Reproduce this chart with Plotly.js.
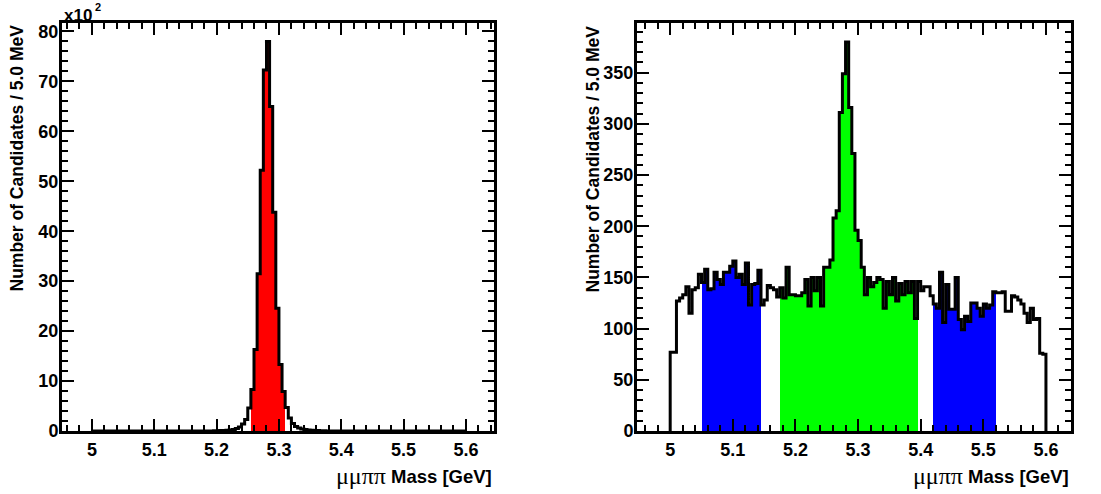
<!DOCTYPE html>
<html>
<head>
<meta charset="utf-8">
<script src="https://cdn.plot.ly/plotly-3.0.1.min.js"></script>
<style>html,body{margin:0;padding:0;background:#fff;}#chart{width:1101px;height:494px;}</style>
</head>
<body>
<div id="chart"></div>
<script>
// Histogram binning: 120 bins of 5 MeV from 5.0 to 5.6 GeV
const massMin = 5.0;
const binWidth = 0.005;
const nBins = 120;

// Left panel: signal MC, candidates per bin in units of 10^2
const leftCounts = [
  0,0,0,0,0,0,0,0,0,0,
  0,0,0,0,0,0,0,0,0,0,
  0,0,0,0,0,0,0,0,0,0,
  0,0,0,0,0,0,0,0,0.02,0.03,
  0.05,0.08,0.1,0.15,0.2,0.3,0.5,0.8,1.4,2.3,
  4.6,8.3,16.3,31.5,52.2,72.3,78.0,65.0,43.8,24.6,
  13.3,7.9,4.7,2.6,1.5,0.9,0.6,0.4,0.3,0.2,
  0.15,0.1,0.08,0.05,0.03,0.02,0,0,0,0,
  0,0,0,0,0,0,0,0,0,0,
  0,0,0,0,0,0,0,0,0,0,
  0,0,0,0,0,0,0,0,0,0,
  0,0,0,0,0,0,0,0,0,0
];

// Right panel: data, candidates per bin
const rightCounts = [
  77,77,127,130,133,141,115,138,140,153,
  145,158,138,139,155,148,143,155,155,161,
  166,150,153,143,164,123,143,144,157,123,
  128,142,140,138,131,140,130,160,133,133,
  132,132,135,148,122,150,137,150,122,160,
  160,167,208,215,311,349,380,316,271,196,
  186,160,133,150,141,145,150,148,120,146,
  133,150,127,144,133,146,135,146,110,146,
  137,141,141,132,124,120,155,106,143,119,
  119,150,109,99,112,107,125,125,120,112,
  124,120,123,136,135,135,136,117,117,132,
  131,128,124,115,106,120,109,110,76,75
];

// Selection windows (GeV)
const leftSignalWindow = [5.255, 5.310];
const rightSignalWindow = [5.175, 5.395];
const rightSidebands = [[5.05, 5.145], [5.42, 5.52]];

const xTickVals = [5.0, 5.1, 5.2, 5.3, 5.4, 5.5, 5.6];
const xTickText = ['5', '5.1', '5.2', '5.3', '5.4', '5.5', '5.6'];
const leftYTicks = [0, 10, 20, 30, 40, 50, 60, 70, 80];
const rightYTicks = [0, 50, 100, 150, 200, 250, 300, 350];

const xTitleGreek = 'μμππ';
const xTitleText = 'Mass [GeV]';
const yTitle = 'Number of Candidates / 5.0 MeV';

const centers = [];
const edges = [];
for (let i = 0; i < nBins; i++) {
  centers.push(+(massMin + binWidth * (i + 0.5)).toFixed(4));
  edges.push(+(massMin + binWidth * i).toFixed(4));
}
const massMax = +(massMin + binWidth * nBins).toFixed(4);

function inWin(x, w) { return x > w[0] && x < w[1]; }

const leftColors = centers.map(c => inWin(c, leftSignalWindow) ? '#ff0000' : 'rgba(0,0,0,0)');
const rightColors = centers.map(c => {
  if (inWin(c, rightSignalWindow)) return '#00ff00';
  if (rightSidebands.some(w => inWin(c, w))) return '#0000ff';
  return 'rgba(0,0,0,0)';
});

function outline(counts) {
  const xs = [massMin].concat(edges).concat([massMax, massMax]);
  const ys = [0].concat(counts).concat([counts[counts.length - 1], 0]);
  return {xs, ys};
}
const lo = outline(leftCounts);
const ro = outline(rightCounts);

const traces = [
  {type: 'bar', x: centers, y: leftCounts, width: binWidth, marker: {color: leftColors, line: {width: 0}},
   xaxis: 'x', yaxis: 'y', hoverinfo: 'skip', showlegend: false},
  {type: 'scatter', mode: 'lines', x: lo.xs, y: lo.ys, line: {shape: 'hv', color: '#000', width: 3},
   xaxis: 'x', yaxis: 'y', hoverinfo: 'skip', showlegend: false},
  {type: 'bar', x: centers, y: rightCounts, width: binWidth, marker: {color: rightColors, line: {width: 0}},
   xaxis: 'x2', yaxis: 'y2', hoverinfo: 'skip', showlegend: false},
  {type: 'scatter', mode: 'lines', x: ro.xs, y: ro.ys, line: {shape: 'hv', color: '#000', width: 3},
   xaxis: 'x2', yaxis: 'y2', hoverinfo: 'skip', showlegend: false}
];

const FONT = 'Liberation Sans, Arial, sans-serif';
const tickFont = {family: FONT, size: 18, color: '#000', weight: 700};

function xAxis(domain, anchor, range) {
  return {
    domain: domain, anchor: anchor, range: range,
    tickvals: xTickVals, ticktext: xTickText,
    ticks: 'inside', ticklen: 12, tickwidth: 2, tickcolor: '#000',
    minor: {dtick: 0.02, tick0: 5.0, ticks: 'inside', ticklen: 6, tickwidth: 2, tickcolor: '#000'},
    showline: true, linewidth: 3, linecolor: '#000', mirror: 'allticks',
    showgrid: false, zeroline: false, tickfont: tickFont, fixedrange: true
  };
}
function yAxis(anchor, range, vals, minorD) {
  return {
    anchor: anchor, domain: [0, 1], range: range,
    tickvals: vals,
    ticks: 'inside', ticklen: 12, tickwidth: 2, tickcolor: '#000',
    minor: {dtick: minorD, tick0: 0, ticks: 'inside', ticklen: 6, tickwidth: 2, tickcolor: '#000'},
    showline: true, linewidth: 3, linecolor: '#000', mirror: 'allticks',
    showgrid: false, zeroline: false, tickfont: tickFont, fixedrange: true,
    ticklabelstandoff: -3
  };
}

const W = 1101, H = 494, mt = 23, mb = 63;
const ph = H - mt - mb;
const px = v => v / W;
const py = v => (H - mb - v) / ph;

const yTitleFont = {family: FONT, size: 17.5, color: '#000', weight: 700};
const xTitleFont = {family: FONT, size: 18.5, color: '#000', weight: 700};
const greekFont = {family: 'Liberation Serif, Times New Roman, serif', size: 24, color: '#000', weight: 400};

function xTitleAnns(rightPx) {
  return [
    {xref: 'paper', yref: 'paper', x: px(rightPx), y: py(476), xanchor: 'right', yanchor: 'middle',
     text: xTitleText, showarrow: false, font: xTitleFont},
    {xref: 'paper', yref: 'paper', x: px(rightPx - 106), y: py(476), xanchor: 'right', yanchor: 'middle',
     text: xTitleGreek, showarrow: false, font: greekFont}
  ];
}

const layout = {
  width: W, height: H,
  margin: {l: 0, r: 0, t: mt, b: mb, pad: 0},
  paper_bgcolor: '#fff', plot_bgcolor: '#fff',
  bargap: 0, barmode: 'overlay',
  xaxis: xAxis([px(62), px(494)], 'y', [4.952, 5.645]),
  yaxis: yAxis('x', [0, 81.7], leftYTicks, 2),
  xaxis2: xAxis([px(637), px(1071)], 'y2', [4.947, 5.640]),
  yaxis2: yAxis('x2', [0, 398.5], rightYTicks, 10),
  annotations: [
    {xref: 'paper', yref: 'paper', x: px(16), y: 1, xanchor: 'center', yanchor: 'top', textangle: -90,
     text: yTitle, showarrow: false, font: yTitleFont},
    {xref: 'paper', yref: 'paper', x: px(592), y: 1, xanchor: 'center', yanchor: 'top', textangle: -90,
     text: yTitle, showarrow: false, font: yTitleFont},
    {xref: 'paper', yref: 'paper', x: px(62), y: py(15), xanchor: 'left', yanchor: 'middle',
     text: 'x10', showarrow: false, font: {family: FONT, size: 17, color: '#000', weight: 700}},
    {xref: 'paper', yref: 'paper', x: px(93), y: py(7), xanchor: 'left', yanchor: 'middle',
     text: '2', showarrow: false, font: {family: FONT, size: 11, color: '#000', weight: 700}}
  ].concat(xTitleAnns(494)).concat(xTitleAnns(1071))
};

Plotly.newPlot('chart', traces, layout, {displayModeBar: false, staticPlot: true});
</script>
</body>
</html>
